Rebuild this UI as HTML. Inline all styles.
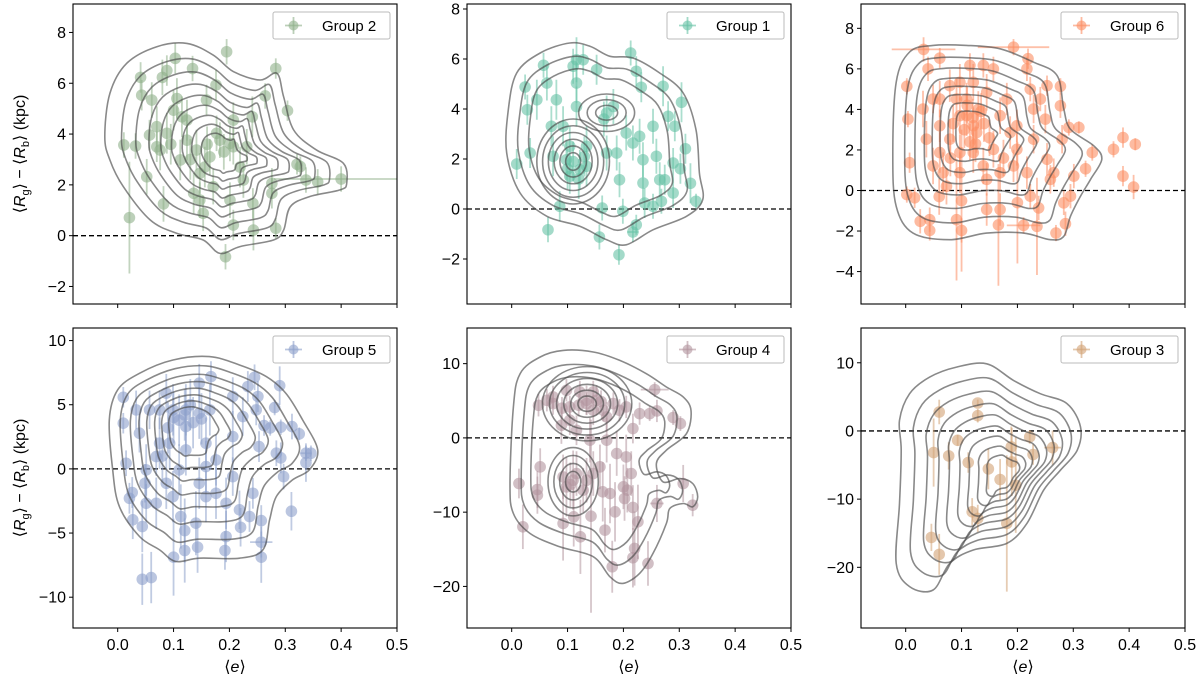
<!DOCTYPE html>
<html><head><meta charset="utf-8"><style>
html,body{margin:0;padding:0;background:#fff;}
svg{display:block;font-family:"Liberation Sans","DejaVu Sans",sans-serif;}
</style></head><body>
<svg id="fig" width="1200" height="678" viewBox="0 0 1200 678" xmlns="http://www.w3.org/2000/svg"></svg>
<script>
// ---------- DATA (e, dR, yerr, xerr) ----------
const group2Points=[[0.011,3.57,0.5],[0.021,0.71,2.2],[0.032,3.53,0.5],[0.041,6.23,0.6],[0.043,5.53,0.6],[0.052,2.32,0.7],[0.057,3.96,0.6],[0.07,3.5,0.6],[0.08,6.23,0.7],[0.082,1.25,0.7],[0.088,6.5,0.6],[0.103,6.98,0.6],[0.106,5.4,0.8],[0.115,4.68,0.8],[0.134,6.58,0.5],[0.141,3.37,0.8],[0.147,1.4,0.7],[0.156,2.7,0.8],[0.176,5.93,0.6],[0.195,7.24,0.5],[0.183,3.76,0.7],[0.201,3.63,0.7],[0.207,3.5,0.7],[0.193,-0.83,0.5],[0.207,0.42,0.6],[0.219,2.7,0.8],[0.231,3.5,0.7],[0.241,4.68,0.8],[0.243,0.22,0.8],[0.242,1.27,0.6],[0.264,5.5,0.5],[0.276,1.67,0.6],[0.276,2.06,0.6],[0.283,6.58,0.4],[0.283,0.29,0.4],[0.304,4.92,0.4],[0.321,2.81,0.4],[0.327,2.72,0.4],[0.337,2.19,0.5],[0.358,2.12,0.5],[0.4,2.23,0.5,0.12],[0.124,4.55,0.8],[0.1,4.94,0.8],[0.147,2.45,0.8],[0.165,3.1,0.7],[0.171,1.93,0.7],[0.136,1.67,0.8],[0.088,4.03,0.8],[0.07,4.29,0.8],[0.061,5.34,0.7],[0.124,3.76,0.8],[0.177,4.03,0.7],[0.207,4.55,0.7],[0.159,5.34,0.6],[0.112,2.98,0.8],[0.076,3.37,0.8],[0.153,0.88,0.7],[0.225,2.19,0.7],[0.201,1.4,0.7],[0.19,3.3,0.7],[0.16,3.6,0.7],[0.13,3.0,0.8],[0.095,3.6,0.8]];
const group1Points=[[0.009,1.8,0.6],[0.024,4.88,0.5],[0.028,3.97,0.6],[0.033,2.24,0.6],[0.057,5.75,0.5],[0.065,-0.83,0.5],[0.063,5.04,0.7],[0.071,3.31,0.8],[0.08,4.37,0.8],[0.086,0.11,0.6],[0.092,3.31,0.8],[0.098,1.97,0.8],[0.11,5.71,0.7],[0.116,5.97,0.9],[0.128,5.97,0.6],[0.116,4.1,0.8],[0.104,1.31,0.7],[0.122,1.57,0.8],[0.134,1.71,0.8],[0.152,5.57,0.6],[0.157,-1.12,0.5],[0.162,0.04,0.5],[0.17,3.84,0.7],[0.182,4.1,0.7],[0.17,2.24,0.7],[0.188,2.24,0.7],[0.192,-1.83,0.4],[0.199,-0.09,0.5],[0.213,6.24,0.5],[0.223,5.51,0.6],[0.223,-0.63,0.4],[0.217,-0.92,0.4,0.01],[0.232,4.87,0.6],[0.229,2.91,0.7],[0.235,1.97,0.7],[0.235,1.04,0.7],[0.238,0.24,0.6],[0.253,0.11,0.5],[0.253,3.31,0.7],[0.259,2.11,0.7],[0.265,1.17,0.7],[0.271,4.91,0.8],[0.268,0.31,0.5],[0.274,1.17,0.6],[0.28,3.71,0.6],[0.289,0.64,0.6],[0.292,3.31,0.6],[0.289,1.84,0.6],[0.304,4.27,0.8],[0.302,1.61,0.6],[0.311,2.41,0.6],[0.32,1.03,0.8],[0.33,0.31,0.3],[0.104,2.51,0.8],[0.074,2.11,0.8],[0.134,2.51,0.8],[0.205,3.04,0.7],[0.217,2.64,0.7],[0.193,1.17,0.7],[0.045,4.37,0.8],[0.116,5.04,0.8],[0.11,1.9,0.8],[0.12,1.2,0.8],[0.1,1.6,0.8],[0.13,2.1,0.8],[0.165,3.6,0.7]];
const group6Points=[[0.002,5.14,0.4],[0.004,3.52,0.4],[0.002,-0.2,0.4],[0.007,1.37,0.5],[0.016,-0.36,0.5],[0.026,-1.52,0.6],[0.032,6.96,0.6,0.057],[0.043,-1.97,0.5],[0.043,-1.44,0.6],[0.04,6.0,0.6],[0.061,6.53,0.5],[0.049,4.51,0.7],[0.061,3.19,0.8],[0.073,0.21,0.9],[0.079,5.17,0.8],[0.091,-1.44,3.0],[0.1,-1.97,0.6],[0.097,3.69,0.9],[0.097,1.87,0.9],[0.109,4.51,0.8],[0.121,3.19,0.9],[0.115,6.17,0.6],[0.139,6.17,0.6],[0.145,-0.94,0.8],[0.145,0.55,0.8],[0.157,6.0,0.6],[0.166,-1.7,3.0],[0.169,-0.94,0.8],[0.193,7.07,0.4,0.064],[0.187,2.86,0.8],[0.193,1.21,0.8],[0.211,-1.72,0.4,0.03],[0.219,6.5,0.5],[0.217,6.0,0.6],[0.223,5.0,0.6],[0.223,-0.28,0.6],[0.235,-1.77,2.4],[0.238,-0.86,0.6],[0.229,2.53,0.7],[0.241,4.51,0.6],[0.25,3.52,0.7],[0.253,5.17,0.5],[0.253,1.54,0.8],[0.259,0.55,0.7],[0.265,0.88,0.7],[0.269,-2.1,0.4],[0.277,5.14,0.4],[0.277,4.18,0.6],[0.28,2.53,0.7],[0.283,-0.61,0.6],[0.286,-1.64,0.6],[0.292,3.11,0.4],[0.295,-0.28,0.6],[0.301,0.71,0.6],[0.31,3.11,0.3],[0.322,1.07,0.4],[0.334,1.87,0.4],[0.372,2.03,0.4],[0.389,2.61,0.5],[0.389,0.71,0.5],[0.411,2.28,0.3],[0.408,0.17,0.6],[0.091,4.51,1.0],[0.109,3.69,1.0],[0.127,2.86,1.0],[0.079,2.53,1.0],[0.061,1.87,1.0],[0.145,4.84,0.9],[0.121,5.34,0.9],[0.169,3.69,0.9],[0.157,2.03,0.9],[0.097,0.88,1.0],[0.067,0.88,1.0],[0.037,2.53,0.9],[0.031,4.02,0.9],[0.181,4.51,0.8],[0.199,3.19,0.8],[0.121,1.87,1.0],[0.097,5.34,0.9],[0.139,1.21,0.9],[0.061,4.51,0.9],[0.199,2.03,0.8],[0.169,0.88,0.9],[0.217,0.88,0.8],[0.229,4.02,0.7],[0.049,1.21,0.9],[0.105,3.0,0.9],[0.13,4.0,0.9],[0.115,2.4,0.9],[0.085,3.3,0.9],[0.14,3.3,0.9],[0.1,-0.5,3.5],[0.2,-0.6,3.0],[0.12,3.6,0.9],[0.11,4.2,0.9],[0.125,2.3,0.9],[0.135,3.9,0.9],[0.15,2.6,0.9],[0.08,1.6,0.9],[0.175,1.6,0.9],[0.06,-0.3,0.9]];
const group5Points=[[0.01,5.58,0.8],[0.01,3.56,0.8],[0.015,0.44,1.0],[0.021,-2.29,1.2],[0.026,-1.84,1.2],[0.027,-3.97,1.5],[0.044,-8.6,2.0],[0.044,-4.49,2.0],[0.049,-1.12,1.5],[0.06,-8.47,2.0],[0.051,-2.68,1.5],[0.069,0.96,1.5],[0.075,4.6,1.5],[0.087,5.9,1.5],[0.1,-6.88,3.0],[0.099,-2.16,2.0],[0.093,2.0,2.0],[0.113,-3.71,2.5],[0.12,-6.36,2.5],[0.12,-4.81,2.5],[0.122,3.3,2.0],[0.14,-4.23,2.5],[0.143,-6.1,2.0],[0.146,6.68,1.5],[0.158,-2.16,2.0],[0.167,7.19,1.2],[0.176,0.7,2.0],[0.194,-5.27,2.0],[0.194,-2.68,2.0],[0.192,-6.36,1.5],[0.206,2.52,2.0],[0.218,-3.19,1.5],[0.22,-4.55,1.5],[0.224,4.08,1.5],[0.233,6.42,1.2],[0.236,-3.71,1.2],[0.242,-1.9,1.2],[0.245,7.14,1.0],[0.248,4.6,1.2],[0.251,5.64,1.2],[0.253,1.74,1.2],[0.257,-4.03,1.2],[0.257,-5.71,1.2,0.02],[0.257,-6.88,2.0],[0.262,3.38,0.8],[0.273,3.19,0.6],[0.281,4.78,0.6],[0.284,1.22,1.0],[0.29,6.49,1.5],[0.292,3.25,0.6],[0.292,0.86,1.2],[0.297,-0.6,1.0],[0.311,-3.3,1.5],[0.312,3.3,1.0],[0.325,2.73,0.5],[0.337,1.22,0.6,0.01],[0.346,1.22,0.6],[0.337,0.49,1.5],[0.057,4.6,1.5],[0.099,4.6,2.0],[0.122,4.6,2.0],[0.146,4.34,2.0],[0.075,2.0,2.0],[0.051,-0.08,2.0],[0.122,1.48,2.0],[0.158,2.0,2.0],[0.087,-1.12,2.0],[0.11,-0.08,2.0],[0.158,0.18,2.0],[0.176,-1.9,2.0],[0.069,-2.68,2.0],[0.146,-1.12,2.0],[0.039,2.78,1.5],[0.033,4.6,1.5],[0.206,-0.6,1.5],[0.206,5.64,1.5],[0.11,3.8,2.0],[0.135,3.6,2.0],[0.09,3.2,2.0],[0.12,4.2,2.0],[0.15,3.9,2.0],[0.1,4.0,2.0],[0.13,5.0,2.0],[0.165,4.6,2.0],[0.08,1.0,2.0]];
const group4Points=[[0.013,-6.14,2.0],[0.02,-11.97,3.0],[0.046,-6.95,2.5],[0.046,-7.71,2.5],[0.051,-3.9,2.5],[0.048,4.39,1.5],[0.063,5.07,1.5],[0.074,5.52,1.5],[0.089,1.7,2.5],[0.092,-11.52,5.0],[0.098,6.41,1.5],[0.098,-6.59,4.0],[0.11,-5.7,4.0],[0.111,-10.63,4.0],[0.116,1.03,2.0],[0.122,6.19,1.5],[0.123,-13.32,5.0],[0.134,5.07,2.0],[0.142,-10.54,13.0],[0.146,6.19,1.5],[0.146,3.72,2.0],[0.152,5.07,2.0],[0.163,-7.26,4.0],[0.167,-12.42,3.0],[0.17,2.82,2.0],[0.176,-7.49,4.0],[0.18,-17.35,3.5],[0.182,4.62,1.5],[0.185,-9.96,4.0],[0.188,-2.11,3.0],[0.2,-6.59,3.0],[0.202,-8.16,3.0],[0.205,-2.56,3.0],[0.207,-7.04,3.0],[0.214,-4.8,3.0],[0.217,-9.37,3.0],[0.217,1.26,2.0],[0.217,-16.14,4.0],[0.22,-14.89,5.0],[0.226,-11.3,5.0],[0.229,3.27,1.5],[0.244,-16.91,3.0],[0.247,3.27,1.0],[0.256,6.5,1.0,0.025],[0.26,3.63,1.5],[0.26,-8.83,2.5,0.012],[0.289,2.74,1.0],[0.302,1.93,1.0],[0.307,-6.14,2.5],[0.324,-9.06,1.5],[0.074,4.62,1.5],[0.104,4.17,1.5],[0.134,4.62,1.5],[0.164,3.72,1.5],[0.193,3.72,1.5],[0.205,4.17,1.5],[0.104,2.38,2.0],[0.116,-4.8,3.0],[0.134,-5.7,3.0],[0.092,-5.25,3.0],[0.146,-4.8,3.0],[0.128,-7.04,3.0],[0.158,-3.9,3.0],[0.17,-0.31,3.0],[0.14,-0.31,3.0],[0.12,4.4,1.5],[0.16,4.9,1.5],[0.09,4.0,1.5],[0.105,-6.3,3.0]];
const group3Points=[[0.06,2.78,1.8],[0.129,4.1,0.5],[0.129,2.24,1.0],[0.05,-3.17,5.0],[0.077,-3.66,2.0],[0.093,-1.37,0.8],[0.112,-4.63,1.5],[0.148,-5.56,3.0],[0.169,-7.12,3.0],[0.189,-2.34,3.0],[0.19,-4.54,5.0],[0.197,-7.95,7.0],[0.222,-0.88,1.0],[0.228,-3.46,1.5],[0.263,-2.44,2.5,0.015],[0.119,-11.85,2.0],[0.129,-12.83,2.0],[0.181,-13.56,10.0],[0.046,-15.61,2.0],[0.06,-18.1,3.0]];

// KDE contour outlines (data units) and inner level scales
const g2Outer=[[-0.023,3.9],[-0.014,5.6],[0.016,6.78],[0.07,7.44],[0.124,7.57],[0.171,7.11],[0.207,6.46],[0.255,6.13],[0.285,6.39],[0.297,5.47],[0.315,4.16],[0.356,3.37],[0.404,2.85],[0.41,2.06],[0.398,1.8],[0.344,1.54],[0.309,1.14],[0.297,0.22],[0.279,-0.17],[0.219,-0.43],[0.183,-0.7],[0.153,-0.17],[0.106,0.09],[0.058,0.62],[0.01,1.93],[-0.014,2.98]];
const g1Outer=[[-0.009,2.24],[-0.006,3.97],[0.009,5.44],[0.051,6.24],[0.104,6.64],[0.14,6.51],[0.176,6.11],[0.217,6.04],[0.265,5.44],[0.307,4.64],[0.33,3.17],[0.336,1.44],[0.342,0.37],[0.313,-0.29],[0.253,-0.83],[0.205,-1.43],[0.17,-1.23],[0.122,-0.69],[0.063,-0.29],[0.015,0.64]];
const g6Outer=[[-0.023,1.7],[-0.017,5.34],[0.007,6.83],[0.049,7.16],[0.109,7.16],[0.169,6.99],[0.229,6.33],[0.271,5.67],[0.283,4.02],[0.295,3.02],[0.337,2.2],[0.351,1.54],[0.331,0.55],[0.313,-0.28],[0.295,-1.27],[0.283,-2.26],[0.259,-2.43],[0.211,-2.1],[0.145,-2.1],[0.079,-2.43],[0.013,-2.1],[-0.017,-0.78]];
const g5Outer=[[-0.015,3.82],[0,6.16],[0.039,7.45],[0.099,8.49],[0.164,8.75],[0.218,8.1],[0.266,7.19],[0.301,5.9],[0.331,3.82],[0.358,1.48],[0.343,-0.08],[0.313,-0.86],[0.284,-2.16],[0.272,-3.97],[0.26,-6.31],[0.218,-6.96],[0.146,-6.96],[0.104,-7.22],[0.075,-6.31],[0.039,-5.27],[0.003,-2.94],[-0.009,-0.08]];
const g4Outer=[[-0.003,-6.14],[0.003,4.17],[0.015,8.65],[0.051,10.9],[0.092,11.79],[0.146,11.57],[0.193,10.45],[0.241,8.65],[0.277,6.86],[0.307,5.52],[0.321,3.72],[0.313,0.58],[0.277,-1.66],[0.259,-3.45],[0.271,-5.92],[0.301,-5.47],[0.324,-6.14],[0.333,-7.94],[0.324,-9.28],[0.307,-8.83],[0.283,-9.51],[0.277,-11.52],[0.253,-15.56],[0.229,-18.25],[0.199,-19.6],[0.176,-18.7],[0.146,-16.0],[0.086,-14.66],[0.033,-12.87],[0.003,-10.18]];
const g3Outer=[[-0.011,-10.63],[-0.008,-2.83],[-0.011,1.56],[0.007,5.46],[0.043,7.9],[0.091,9.37],[0.145,9.85],[0.193,7.41],[0.241,5.46],[0.289,4.0],[0.313,0.59],[0.307,-2.83],[0.277,-5.76],[0.247,-8.68],[0.217,-13.56],[0.181,-16.49],[0.121,-17.46],[0.079,-19.41],[0.049,-23.32],[0.007,-22.83],[-0.017,-19.41]];
const g2Scales=[1,0.86,0.74,0.63,0.53,0.44,0.35,0.27,0.19];
const g1Scales=[1,0.86,0.73];
const g6Scales=[1,0.85,0.72,0.6,0.5,0.4,0.3,0.2];
const g5Scales=[1,0.86,0.73,0.62,0.52,0.42,0.33,0.24];
const g4Scales=[1,0.86,0.74];
const g3Scales=[1,0.87,0.75,0.64,0.54,0.44,0.35,0.26,0.18];
// peak ellipses: [e, dR, rx, ry, count]
const g1Peaks=[[0.11,1.9,0.065,1.7,6],[0.17,3.85,0.05,0.75,3]];
const g4Peaks=[[0.135,4.6,0.08,5.0,6],[0.11,-5.9,0.045,4.6,4]];

const yTicks1=[-2,0,2,4,6,8], yTicks2=[-2,0,2,4,6,8], yTicks3=[-4,-2,0,2,4,6,8];
const yTicks4=[-10,-5,0,5,10], yTicks5=[-20,-10,0,10], yTicks6=[-20,-10,0,10];
const xTicks=[0.0,0.1,0.2,0.3,0.4,0.5];

const panels=[
 {name:'group-2',label:'Group 2',pts:group2Points,outer:g2Outer,scales:g2Scales,center:[0.19,3.2],peaks:[],yt:yTicks1,yl:[-2.69,9.12],x0:73,y0:4,col:'#8fb08a',ylab:true,xlab:false},
 {name:'group-1',label:'Group 1',pts:group1Points,outer:g1Outer,scales:g1Scales,center:[0.14,2.8],peaks:g1Peaks,yt:yTicks2,yl:[-3.8,8.2],x0:467,y0:4,col:'#66c2a5',ylab:false,xlab:false},
 {name:'group-6',label:'Group 6',pts:group6Points,outer:g6Outer,scales:g6Scales,center:[0.118,3.1],peaks:[],yt:yTicks3,yl:[-5.6,9.2],x0:861,y0:4,col:'#fc8d62',ylab:false,xlab:false},
 {name:'group-5',label:'Group 5',pts:group5Points,outer:g5Outer,scales:g5Scales,center:[0.125,3.6],peaks:[],yt:yTicks4,yl:[-12.4,10.98],x0:73,y0:328,col:'#8da0cb',ylab:true,xlab:true},
 {name:'group-4',label:'Group 4',pts:group4Points,outer:g4Outer,scales:g4Scales,center:[0.14,-2],peaks:g4Peaks,yt:yTicks5,yl:[-25.6,14.8],x0:467,y0:328,col:'#b3959e',ylab:false,xlab:true},
 {name:'group-3',label:'Group 3',pts:group3Points,outer:g3Outer,scales:g3Scales,center:[0.18,-6.5],peaks:[],yt:yTicks6,yl:[-28.9,15.1],x0:861,y0:328,col:'#d2a275',ylab:false,xlab:true}
];
const W=324,H=300,XL=[-0.08,0.5];
const NS='http://www.w3.org/2000/svg';
const svg=document.getElementById('fig');
function mk(tag,attrs,parent){const e=document.createElementNS(NS,tag);for(const k in attrs)e.setAttribute(k,attrs[k]);(parent||svg).appendChild(e);return e;}
function smooth(pts){const n=pts.length;let d='M'+pts[0][0].toFixed(1)+','+pts[0][1].toFixed(1);
 for(let i=0;i<n;i++){const p0=pts[(i-1+n)%n],p1=pts[i],p2=pts[(i+1)%n],p3=pts[(i+2)%n];
  const c1=[p1[0]+(p2[0]-p0[0])/6,p1[1]+(p2[1]-p0[1])/6],c2=[p2[0]-(p3[0]-p1[0])/6,p2[1]-(p3[1]-p1[1])/6];
  d+='C'+c1[0].toFixed(1)+','+c1[1].toFixed(1)+' '+c2[0].toFixed(1)+','+c2[1].toFixed(1)+' '+p2[0].toFixed(1)+','+p2[1].toFixed(1);}
 return d+'Z';}

panels.forEach((P,pi)=>{
 const sx=v=>P.x0+(v-XL[0])/(XL[1]-XL[0])*W;
 const sy=v=>P.y0+H-(v-P.yl[0])/(P.yl[1]-P.yl[0])*H;
 const g=mk('g',{});
 
 
 const defs=mk('defs',{},g);
 const cp=mk('clipPath',{id:'clip'+pi},defs);
 mk('rect',{x:P.x0,y:P.y0,width:W,height:H},cp);
 const plot=mk('g',{'clip-path':'url(#clip'+pi+')'},g);
 const zl=mk('line',{x1:P.x0,x2:P.x0+W,y1:sy(0),y2:sy(0),stroke:'#000','stroke-width':1.3,'stroke-dasharray':'5,3'},plot);
 
 
 const pg=mk('g',{},plot);
 
 
 P.pts.forEach(p=>{
  const cx=sx(p[0]),cy=sy(p[1]);
  const eb=mk('line',{x1:cx,x2:cx,y1:sy(p[1]-p[2]),y2:sy(p[1]+p[2]),stroke:P.col,'stroke-width':1.8,'stroke-opacity':0.55},pg);
  
  
  if(p[3]){const xb=mk('line',{x1:sx(p[0]-p[3]),x2:sx(p[0]+p[3]),y1:cy,y2:cy,stroke:P.col,'stroke-width':1.8,'stroke-opacity':0.55},pg);
   
   }
  const c=mk('circle',{cx:cx,cy:cy,r:5.8,fill:P.col,'fill-opacity':0.6},pg);
  
  
 });
 const cg=mk('g',{fill:'none',stroke:'#4a4a4a','stroke-width':1.6,'stroke-opacity':0.65},plot);
 
 
 P.scales.forEach(s=>{
  const pts=P.outer.map(q=>[sx(P.center[0]+s*(q[0]-P.center[0])),sy(P.center[1]+s*(q[1]-P.center[1]))]);
  const path=mk('path',{d:smooth(pts)},cg);
  
  
 });
 P.peaks.forEach(pk=>{
  for(let k=0;k<pk[4];k++){const f=1-k/(pk[4]+0.3);
   const el=mk('ellipse',{cx:sx(pk[0]),cy:sy(pk[1]),rx:Math.abs(sx(pk[0]+pk[2]*f)-sx(pk[0])),ry:Math.abs(sy(pk[1]+pk[3]*f)-sy(pk[1]))},cg);
   
   }
 });
 const fr=mk('rect',{x:P.x0,y:P.y0,width:W,height:H,fill:'none',stroke:'#000','stroke-width':1.1},g);
 
 
 P.yt.forEach(t=>{const y=sy(t);
  mk('line',{x1:P.x0-4,x2:P.x0,y1:y,y2:y,stroke:'#000','stroke-width':1},g);
  const tx=mk('text',{x:P.x0-7,y:y+5.5,'text-anchor':'end','font-size':16,fill:'#000'},g);
  tx.textContent=(t<0?'\u2212'+(-t):String(t));
  
  });
 xTicks.forEach(t=>{const x=sx(t);
  mk('line',{x1:x,x2:x,y1:P.y0+H,y2:P.y0+H+4,stroke:'#000','stroke-width':1},g);
  if(P.xlab){const tx=mk('text',{x:x,y:P.y0+H+22,'text-anchor':'middle','font-size':16,fill:'#000'},g);
   tx.textContent=t.toFixed(1);
   
   }});
 if(P.xlab){const xl=mk('text',{x:P.x0+W/2,y:P.y0+H+44,'text-anchor':'middle','font-size':16,fill:'#000'},g);
  xl.innerHTML='\u27E8<tspan font-style="italic">e</tspan>\u27E9';
  
  }
 if(P.ylab){const yc=P.y0+H/2;
  const yl=mk('text',{x:0,y:0,transform:'translate(25,'+yc+') rotate(-90)','text-anchor':'middle','font-size':16,fill:'#000'},g);
  yl.innerHTML='\u27E8<tspan font-style="italic">R</tspan><tspan font-size="11" dy="4">g</tspan><tspan dy="-4">\u27E9 \u2212 \u27E8</tspan><tspan font-style="italic">R</tspan><tspan font-size="11" dy="4">b</tspan><tspan dy="-4">\u27E9 (kpc)</tspan>';
  
  }
 const lg=mk('g',{},g);
 
 
 const lx=P.x0+W-124,ly=P.y0+8;
 mk('rect',{x:lx,y:ly,width:117,height:27,fill:'#fff','fill-opacity':0.8,stroke:'#bbb','stroke-width':1,rx:2},lg);
 mk('line',{x1:lx+12,x2:lx+29,y1:ly+13.5,y2:ly+13.5,stroke:P.col,'stroke-width':1.8,opacity:0.6},lg);
 mk('line',{x1:lx+20.5,x2:lx+20.5,y1:ly+5,y2:ly+22,stroke:P.col,'stroke-width':1.8,opacity:0.6},lg);
 mk('circle',{cx:lx+20.5,cy:ly+13.5,r:5,fill:P.col,opacity:0.6},lg);
 const lt=mk('text',{x:lx+49,y:ly+19,'font-size':15,fill:'#000'},lg);
 lt.textContent=P.label;
 
 
});
</script>
</body></html>
